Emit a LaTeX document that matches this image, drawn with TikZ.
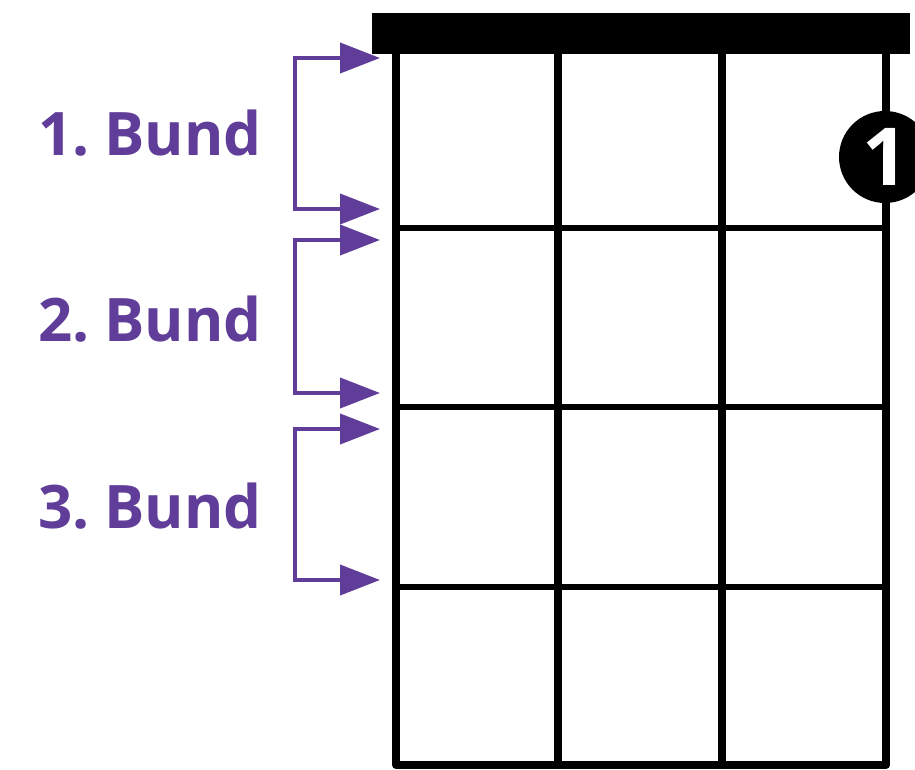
\documentclass[tikz,border=0pt]{standalone}
\usepackage{fontspec}
\setmainfont{Open Sans}
\usetikzlibrary{arrows.meta}
\definecolor{bundpurple}{RGB}{96,61,153}
\tikzset{
  parr/.style={draw=bundpurple, line width=4pt, {Triangle[length=40pt,width=30pt]}-{Triangle[length=40pt,width=30pt]}},
  blabel/.style={text=bundpurple, font=\fontsize{60}{64}\selectfont\bfseries, anchor=center, inner sep=0pt},
  stringline/.style={line width=8pt, black},
  fretline/.style={line width=6pt, black},
  fingerdot/.style={circle, fill=black, minimum size=92pt, inner sep=0pt, text=white, font=\fontsize{80}{80}\selectfont\bfseries}
}
\begin{document}
\begin{tikzpicture}[x=1pt,y=-1pt]
\useasboundingbox (0,0) rectangle (915,770);
\clip (0,0) rectangle (915,770);
\fill[white] (0,0) rectangle (915,770);
% nut
\fill[black] (372,13) rectangle (910,54);
% frets
\foreach \y in {228,407,587} \draw[fretline] (396,\y) -- (886,\y);
\draw[line width=8pt, line cap=round] (396,765) -- (886,765);
% strings
\foreach \x in {396,558,722,886} \draw[stringline] (\x,54) -- (\x,765);
% finger dot
\node[fingerdot] (dot) at (885,157) {1};
% labels
\node[blabel] (b1) at (150,133) {1.\hspace{0.24em}Bund};
\node[blabel] (b2) at (150,319) {2.\hspace{0.24em}Bund};
\node[blabel] (b3) at (150,506) {3.\hspace{0.24em}Bund};
% arrows
\coordinate (s1) at (380,58);  \coordinate (e1) at (380,209);
\coordinate (s2) at (380,240); \coordinate (e2) at (380,393);
\coordinate (s3) at (380,429); \coordinate (e3) at (380,580);
\draw[parr] (s1) -- ++(-85,0) |- (e1);
\draw[parr] (s2) -- ++(-85,0) |- (e2);
\draw[parr] (s3) -- ++(-85,0) |- (e3);
\end{tikzpicture}
\end{document}
